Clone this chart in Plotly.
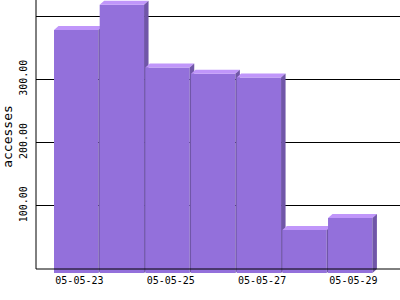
import plotly.graph_objects as go

dates = ["05-05-23", "05-05-24", "05-05-25", "05-05-26", "05-05-27", "05-05-28", "05-05-29"]
accesses = [384, 424, 325, 315, 309, 68, 87]
tick_dates = ["05-05-23", "05-05-25", "05-05-27", "05-05-29"]
y_ticks = [100, 200, 300, 400]
y_ticktext = ["100.00", "200.00", "300.00", ""]

FRONT = "rgb(147,112,219)"
TOP = "rgb(192,150,250)"
SIDE = "rgb(112,86,168)"

PX_X = 45.67          # pixels per category slot
PX_Y = 0.6325         # pixels per access unit
DX = 4.5 / PX_X       # 3D depth offset (x)
DY = 4.0 / PX_Y       # 3D depth offset (y)
HALF = (45.67 - 1.3) / 2 / PX_X
Y_TOP = 269 / PX_Y

fig = go.Figure()
poly = dict(fill="toself", mode="lines", line=dict(width=0), hoverinfo="skip", showlegend=False)
for i, v in enumerate(accesses):
    x0, x1 = i - HALF, i + HALF
    b, t = -DY, v - DY
    fig.add_trace(go.Scatter(x=[x0, x1, x1, x0, x0], y=[b, b, t, t, b], fillcolor=FRONT, **poly))
    fig.add_trace(go.Scatter(x=[x0, x0 + DX, x1 + DX, x1, x0], y=[t, v, v, t, t], fillcolor=TOP, **poly))
    fig.add_trace(go.Scatter(x=[x1, x1 + DX, x1 + DX, x1, x1], y=[b, 0, v, t, b], fillcolor=SIDE, **poly))

tick_font = dict(family="DejaVu Sans Mono", size=10, color="black")
label_idx = [dates.index(d) for d in tick_dates]

fig.update_layout(
    width=400, height=300,
    margin=dict(l=36, r=0, t=0, b=27, pad=0),
    paper_bgcolor="white", plot_bgcolor="white",
    xaxis=dict(range=[(36 - 76.2) / PX_X, (400 - 76.2) / PX_X],
               tickvals=[i + 0.07 for i in label_idx], ticktext=tick_dates,
               showgrid=False, zeroline=False, showline=False, ticks="",
               tickfont=tick_font, fixedrange=True),
    yaxis=dict(range=[-DY, Y_TOP], tickvals=y_ticks, ticktext=y_ticktext,
               showgrid=True, gridcolor="black", gridwidth=1,
               zeroline=False, showline=False, ticks="", tickangle=-90,
               tickfont=tick_font, ticklabelstandoff=6,
               title=dict(text="accesses", font=dict(family="DejaVu Sans Mono", size=13, color="black"), standoff=4),
               fixedrange=True),
    shapes=[
        dict(type="line", xref="paper", yref="y", x0=0, x1=0, y0=0, y1=Y_TOP,
             line=dict(color="black", width=1), layer="above"),
        dict(type="line", xref="paper", yref="y", x0=0, x1=1, y0=0, y1=0,
             line=dict(color="black", width=1), layer="above"),
    ],
)

fig.write_html("out.html")
